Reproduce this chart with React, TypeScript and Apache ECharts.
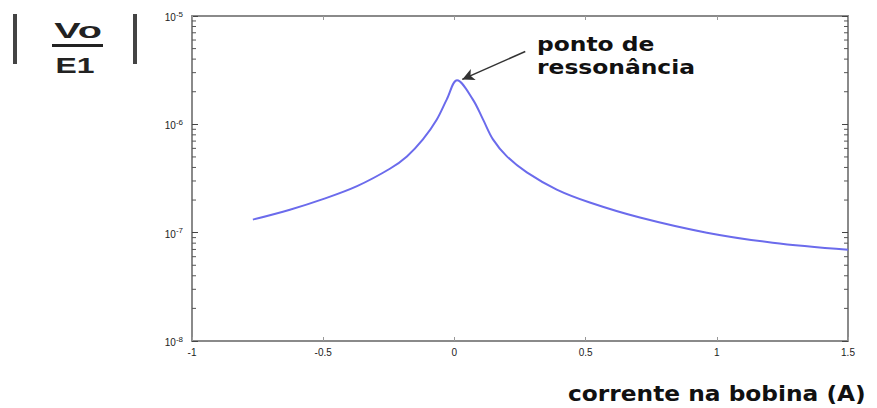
import React, { useEffect, useRef } from "react";
import * as echarts from "echarts";

// Coil current (A) and |Vo/E1|
const current = [
  -0.768, -0.627, -0.501, -0.371, -0.246, -0.181, -0.12, -0.067, -0.029, 0.01,
  0.07, 0.109, 0.147, 0.2, 0.276, 0.39, 0.516, 0.707, 0.962, 1.213, 1.5,
];
const gain = [
  1.32e-7, 1.63e-7, 2.04e-7, 2.69e-7, 3.89e-7, 5.06e-7, 7.26e-7, 1.11e-6, 1.7e-6,
  2.55e-6, 1.7e-6, 1.11e-6, 7.26e-7, 5.06e-7, 3.6e-7, 2.5e-7, 1.9e-7, 1.38e-7,
  1.0e-7, 8.08e-8, 6.96e-8,
];

// Axis ranges and tick labels
const xTicks = [-1, -0.5, 0, 0.5, 1, 1.5];
const yDecades = [-8, -7, -6, -5];
const minorMultipliers = [2, 3, 4, 5, 6, 7, 8, 9];

// Annotation anchor (arrow tail and tip, in data units)
const arrowTail: [number, number] = [0.27, 4.7e-6];
const arrowTip: [number, number] = [0.03, 2.6e-6];

export default function App() {
  const ref = useRef<HTMLDivElement>(null);

  useEffect(() => {
    if (!ref.current) return;
    const chart = echarts.init(ref.current, null, { renderer: "svg" });

    const minorTicks: [number, number][] = [];
    for (let i = 0; i < yDecades.length - 1; i++) {
      for (const m of minorMultipliers) {
        minorTicks.push([xTicks[0], m * Math.pow(10, yDecades[i])]);
      }
    }

    const axisColor = "#8a8a8a";
    const font = "Liberation Sans, Arial, sans-serif";
    const labelStyle = { color: "#222", fontSize: 10, fontFamily: font };

    chart.setOption({
      animation: false,
      backgroundColor: "#ffffff",
      grid: { left: 192, top: 16, width: 656, height: 325, containLabel: false },
      xAxis: [
        {
          type: "value",
          min: xTicks[0],
          max: xTicks[xTicks.length - 1],
          interval: 0.5,
          position: "bottom",
          axisLine: { show: true, onZero: false, lineStyle: { color: axisColor, width: 2 } },
          axisTick: { show: true, inside: true, length: 4, lineStyle: { color: "#999", width: 1 } },
          axisLabel: { ...labelStyle, margin: 6 },
          splitLine: { show: false },
        },
        {
          type: "value",
          min: xTicks[0],
          max: xTicks[xTicks.length - 1],
          interval: 0.5,
          position: "top",
          axisLine: { show: true, onZero: false, lineStyle: { color: axisColor, width: 2 } },
          axisTick: { show: true, inside: true, length: 4, lineStyle: { color: "#999", width: 1 } },
          axisLabel: { show: false },
          splitLine: { show: false },
        },
      ],
      yAxis: [
        {
          type: "log",
          logBase: 10,
          min: Math.pow(10, yDecades[0]),
          max: Math.pow(10, yDecades[yDecades.length - 1]),
          position: "left",
          axisLine: { show: true, onZero: false, lineStyle: { color: axisColor, width: 2 } },
          axisTick: { show: true, inside: true, length: 6, lineStyle: { color: "#444", width: 1 } },
          axisLabel: {
            margin: 9,
            formatter: (v: number) => "{b|10}{s|" + Math.round(Math.log10(v)) + "}",
            rich: {
              b: { fontSize: 10, fontFamily: font, color: "#222", padding: [3, 0, 0, 0] },
              s: { fontSize: 8, fontFamily: font, color: "#222", padding: [0, 0, 4, 0] },
            },
          },
          splitLine: { show: false },
        },
        {
          type: "log",
          logBase: 10,
          min: Math.pow(10, yDecades[0]),
          max: Math.pow(10, yDecades[yDecades.length - 1]),
          position: "right",
          axisLine: { show: true, onZero: false, lineStyle: { color: axisColor, width: 2 } },
          axisTick: { show: true, inside: true, length: 6, lineStyle: { color: "#444", width: 1 } },
          axisLabel: { show: false },
          splitLine: { show: false },
        },
      ],
      series: [
        {
          type: "custom",
          xAxisIndex: 0,
          yAxisIndex: 0,
          silent: true,
          data: minorTicks,
          encode: { x: 0, y: 1 },
          renderItem: (params: any, api: any) => {
            const pt = api.coord([api.value(0), api.value(1)]);
            const cs = params.coordSys;
            const y = pt[1];
            const style = { stroke: "#555", lineWidth: 1 };
            return {
              type: "group",
              children: [
                { type: "line", shape: { x1: cs.x, y1: y, x2: cs.x + 4, y2: y }, style },
                { type: "line", shape: { x1: cs.x + cs.width, y1: y, x2: cs.x + cs.width - 4, y2: y }, style },
              ],
            };
          },
        },
        {
          type: "line",
          xAxisIndex: 0,
          yAxisIndex: 0,
          data: current.map((x, i) => [x, gain[i]]),
          showSymbol: false,
          smooth: 0.35,
          lineStyle: { color: "#6b6bec", width: 2 },
          markLine: {
            silent: true,
            animation: false,
            label: { show: false },
            lineStyle: { color: "#333", width: 1.5, type: "solid" },
            data: [
              [
                { coord: arrowTail, symbol: "none" },
                { coord: arrowTip, symbol: "arrow", symbolSize: [9, 12] },
              ],
            ],
          },
        },
      ],
      graphic: [
        // |Vo/E1| magnitude label
        { type: "rect", shape: { x: 13, y: 14, width: 4, height: 50 }, style: { fill: "#444" } },
        { type: "rect", shape: { x: 133, y: 14, width: 4, height: 50 }, style: { fill: "#444" } },
        {
          type: "text",
          x: 78,
          y: 30,
          scaleX: 1.8,
          style: { text: "Vo", fontSize: 22, fontWeight: "bold", fontFamily: font, fill: "#222", align: "center", verticalAlign: "middle" },
        },
        { type: "rect", shape: { x: 52, y: 44, width: 51, height: 3 }, style: { fill: "#222" } },
        {
          type: "text",
          x: 75,
          y: 65,
          scaleX: 1.45,
          style: { text: "E1", fontSize: 22, fontWeight: "bold", fontFamily: font, fill: "#222", align: "center", verticalAlign: "middle" },
        },
        {
          type: "text",
          x: 537,
          y: 33,
          scaleX: 1.17,
          style: {
            text: "ponto de\nressonância",
            fontSize: 20,
            lineHeight: 23,
            fontWeight: "bold",
            fontFamily: "DejaVu Sans",
            fill: "#111",
            align: "left",
            verticalAlign: "top",
          },
        },
        {
          type: "text",
          x: 568,
          y: 393,
          scaleX: 1.11,
          style: {
            text: "corrente na bobina (A)",
            fontSize: 21,
            fontWeight: "bold",
            fontFamily: "DejaVu Sans",
            fill: "#111",
            align: "left",
            verticalAlign: "middle",
          },
        },
      ],
    });

    return () => chart.dispose();
  }, []);

  return (
    <div
      ref={ref}
      style={{ position: "fixed", left: 0, top: 0, width: 877, height: 408, background: "#fff" }}
    />
  );
}
